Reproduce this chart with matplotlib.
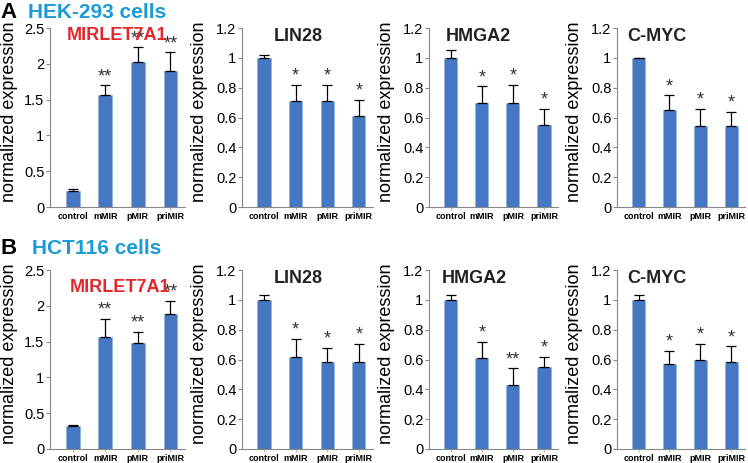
import numpy as np
import matplotlib
matplotlib.use("Agg")
import matplotlib.pyplot as plt

plt.rcParams["font.family"] = ["Liberation Sans", "DejaVu Sans"]

# =========================
# DATA
# =========================
groups = ["control", "mMIR", "pMIR", "priMIR"]
genes = ["MIRLET7A1", "LIN28", "HMGA2", "C-MYC"]

# HEK-293 (row A)
hek_mean = [
    [0.23, 1.56, 2.02, 1.90],
    [1.00, 0.71, 0.71, 0.61],
    [1.00, 0.70, 0.70, 0.55],
    [1.00, 0.65, 0.54, 0.54],
]
hek_err = [
    [0.02, 0.14, 0.21, 0.26],
    [0.02, 0.11, 0.11, 0.11],
    [0.05, 0.11, 0.12, 0.11],
    [0.00, 0.10, 0.12, 0.10],
]
hek_stars = [
    ["", "**", "**", "**"],
    ["", "*", "*", "*"],
    ["", "*", "*", "*"],
    ["", "*", "*", "*"],
]

# HCT116 (row B)
hct_mean = [
    [0.32, 1.57, 1.48, 1.88],
    [1.00, 0.62, 0.58, 0.585],
    [1.00, 0.61, 0.43, 0.55],
    [1.00, 0.57, 0.595, 0.58],
]
hct_err = [
    [0.01, 0.25, 0.16, 0.19],
    [0.03, 0.12, 0.10, 0.12],
    [0.03, 0.11, 0.11, 0.07],
    [0.03, 0.09, 0.11, 0.11],
]
hct_stars = [
    ["", "**", "**", "**"],
    ["", "*", "*", "*"],
    ["", "*", "**", "*"],
    ["", "*", "*", "*"],
]

rows = [
    ("A", "HEK-293 cells", hek_mean, hek_err, hek_stars),
    ("B", "HCT116 cells", hct_mean, hct_err, hct_stars),
]

BAR = "#4677C2"
CYAN = "#1A9AD6"
RED = "#E3262B"

# =========================
# LAYOUT (pixels -> figure fractions)
# =========================
W, H = 748, 463
lefts = [50, 242, 429, 617]
widths = [135, 131, 129, 128]
row_y = [(28, 207), (270, 449)]
title_y = [[0.96, 0.95, 0.95, 0.95], [0.905, 0.955, 0.955, 0.955]]
title_x = [[0.50, 0.43, 0.38, 0.31], [0.52, 0.43, 0.35, 0.31]]
label_off = [32, 34, 34, 34]

fig = plt.figure(figsize=(W / 100, H / 100), dpi=100)

x = np.arange(len(groups))

for r, (letter, cells, means, errs, stars) in enumerate(rows):
    top, bot = row_y[r]
    for g in range(4):
        ax = fig.add_axes([lefts[g] / W, 1 - bot / H, widths[g] / W, (bot - top) / H])
        ax.bar(x, means[g], width=0.42, color=BAR, edgecolor="#8fb0dd", linewidth=0.5, zorder=2)
        ax.errorbar(x, means[g], yerr=[np.zeros(4), errs[g]], fmt="none",
                    ecolor="black", elinewidth=0.9, capsize=3.5, capthick=0.9, zorder=3)
        if g == 0:
            ax.set_ylim(0, 2.5)
            ax.set_yticks([0, 0.5, 1, 1.5, 2, 2.5])
            ax.set_yticklabels(["0", "0.5", "1", "1.5", "2", "2.5"])
        else:
            ax.set_ylim(0, 1.2)
            ax.set_yticks([0, 0.2, 0.4, 0.6, 0.8, 1, 1.2])
            ax.set_yticklabels(["0", "0.2", "0.4", "0.6", "0.8", "1", "1.2"])
        for i in range(4):
            if stars[g][i]:
                ax.text(x[i], means[g][i] + errs[g][i], stars[g][i],
                        ha="center", va="bottom", fontsize=13, color="#333333")
        ax.set_xlim(-0.7, 3.45)
        ax.set_xticks(x)
        ax.set_xticklabels(groups, fontsize=6.5, fontweight="bold")
        ax.tick_params(axis="x", length=2, color="#bbbbbb", pad=1.5)
        ax.tick_params(axis="y", labelsize=10.5, length=3, color="#888888", pad=1)
        for s in ["top", "right"]:
            ax.spines[s].set_visible(False)
        ax.spines["left"].set_color("#888888")
        ax.spines["bottom"].set_color("#888888")
        ax.set_ylabel("normalized expression", fontsize=13)
        ax.yaxis.set_label_coords(-label_off[g] / widths[g], 0.53)
        ax.text(title_x[r][g], title_y[r][g], genes[g], transform=ax.transAxes,
                ha="center", va="center", fontsize=13, fontweight="bold",
                color=RED if g == 0 else "#222222")

    # panel letter and cell line title
    ly = [12, 248][r]
    fig.text(0, 1 - ly / H, letter, fontsize=16, fontweight="bold", va="center", ha="left")
    fig.text(97 / W, 1 - ly / H, cells, fontsize=15, fontweight="bold",
             color=CYAN, va="center", ha="center")

fig.savefig("out.png", dpi=100)
plt.close(fig)
